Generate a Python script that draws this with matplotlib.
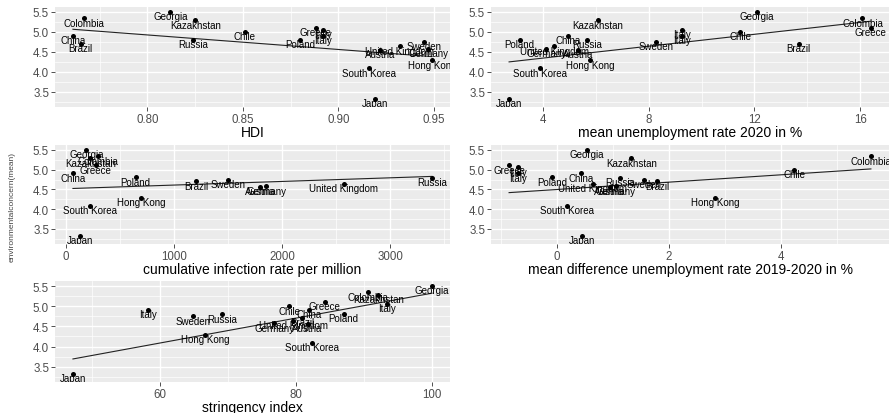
import numpy as np
import matplotlib
matplotlib.use('Agg')
import matplotlib.pyplot as plt
from matplotlib.ticker import FixedLocator

plt.rcParams['font.family'] = ['Liberation Sans', 'DejaVu Sans']

# values
countries = ['Austria', 'Brazil', 'Chile', 'China', 'Colombia', 'Georgia', 'Germany',
             'Greece', 'Hong Kong', 'Italy', 'Italy', 'Japan', 'Kazakhstan', 'Poland',
             'Russia', 'South Korea', 'Sweden', 'United Kingdom']
concern = [4.56, 4.71, 5.00, 4.91, 5.34, 5.51, 4.58, 5.11, 4.29, 5.06, 4.91, 3.33,
           5.29, 4.81, 4.80, 4.09, 4.75, 4.64]

hdi = [0.922, 0.765, 0.851, 0.761, 0.767, 0.812, 0.947, 0.888, 0.949, 0.892, 0.892,
       0.919, 0.825, 0.880, 0.824, 0.916, 0.945, 0.932]
unemp_2020 = [5.35, 13.67, 11.47, 4.97, 16.08, 12.1, 4.13, 16.4, 5.8, 9.25, 9.25, 2.73,
              6.08, 3.13, 5.67, 3.9, 8.28, 4.44]
infection = [1794, 1209, None, 68, 300, 191, 1855, 277, 698, None, None, 132, 230, 646,
             3385, 225, 1502, 2569]
unemp_diff = [0.94, 1.79, 4.23, 0.43, 5.6, 0.53, 1.05, -0.85, 2.82, -0.70, -0.70, 0.45,
              1.33, -0.08, 1.13, 0.18, 1.55, 0.64]
stringency = [81.7, 80.9, 79.0, 81.9, 90.6, 100.0, 76.8, 84.2, 66.6, 93.4, 58.3, 47.2,
              92.1, 87.0, 69.1, 82.3, 64.8, 79.6]

# fitted lines (intercept, slope) as shown in the reference
fit_intercepts = [7.837, 4.046, 4.519, 4.499, 2.233]
fit_slopes = [-3.64, 0.0746, 0.000092, 0.093, 0.0309]

panels = [
    (hdi, 'HDI', [0.80, 0.85, 0.90, 0.95], ['0.80', '0.85', '0.90', '0.95']),
    (unemp_2020, 'mean unemployment rate 2020 in %', [4, 8, 12, 16], ['4', '8', '12', '16']),
    (infection, 'cumulative infection rate per million', [0, 1000, 2000, 3000],
     ['0', '1000', '2000', '3000']),
    (unemp_diff, 'mean difference unemployment rate 2019-2020 in %', [0, 2, 4], ['0', '2', '4']),
    (stringency, 'stringency index', [60, 80, 100], ['60', '80', '100']),
]

W, H = 889, 414
# panel boxes in pixels: left, right, top, bottom
boxes = [(55, 450, 8, 108), (491, 889, 8, 108),
         (55, 450, 146, 245), (491, 889, 146, 245),
         (55, 450, 282, 383)]

fig = plt.figure(figsize=(W / 100, H / 100), dpi=100)

for i, ((xs, title, ticks, tlabels), (l, r, t, b)) in enumerate(zip(panels, boxes)):
    ax = fig.add_axes([l / W, 1 - b / H, (r - l) / W, (b - t) / H])
    pts = [(x, y, c) for x, y, c in zip(xs, concern, countries) if x is not None]
    x = np.array([p[0] for p in pts], dtype=float)
    y = np.array([p[1] for p in pts], dtype=float)

    ax.set_facecolor('#EBEBEB')
    for s in ax.spines.values():
        s.set_visible(False)

    span = x.max() - x.min()
    ax.set_xlim(x.min() - 0.05 * span, x.max() + 0.05 * span)
    ax.set_ylim(3.12, 5.625)

    ax.xaxis.set_major_locator(FixedLocator(ticks))
    ax.set_xticklabels(tlabels)
    step = ticks[1] - ticks[0]
    minor = np.arange(ticks[0] - step / 2, ticks[-1] + step, step)
    ax.xaxis.set_minor_locator(FixedLocator(minor))
    ax.yaxis.set_major_locator(FixedLocator([3.5, 4.0, 4.5, 5.0, 5.5]))
    ax.set_yticklabels(['3.5', '4.0', '4.5', '5.0', '5.5'])
    ax.yaxis.set_minor_locator(FixedLocator([3.25, 3.75, 4.25, 4.75, 5.25]))

    ax.grid(which='major', color='white', lw=1.0)
    ax.grid(which='minor', color='white', lw=0.5)
    ax.set_axisbelow(True)
    ax.tick_params(which='major', length=2.75, width=0.6, color='#333333',
                   labelcolor='#4D4D4D', labelsize=8.3, pad=1.5)
    ax.tick_params(which='minor', length=0)

    # fitted line over the data range
    xl = np.array([x.min(), x.max()])
    ax.plot(xl, fit_intercepts[i] + fit_slopes[i] * xl, color='#222222', lw=0.8, zorder=2)

    ax.scatter(x, y, s=13, color='black', zorder=3, linewidths=0)
    for xi, yi, c in pts:
        ax.text(xi, yi - 0.11, c, ha='center', va='center', fontsize=7,
                color='black', clip_on=True, zorder=4)

    ax.set_xlabel(title, fontsize=10, labelpad=0)

fig.text(12 / W, 1 - 207 / H, 'environmentalconcern(mean)', rotation=90,
         ha='center', va='center', fontsize=6, color='#444444')

fig.savefig('out.png', dpi=100)
